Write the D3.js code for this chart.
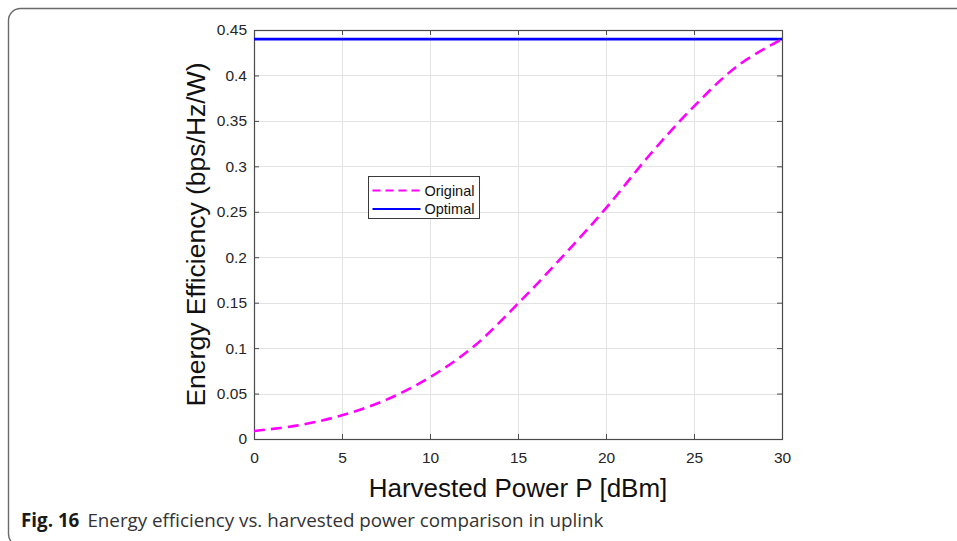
<!DOCTYPE html>
<html>
<head>
<meta charset="utf-8">
<script src="https://cdn.jsdelivr.net/npm/d3@7"></script>
<style>
  html, body { margin: 0; padding: 0; background: #fff; }
  svg { display: block; }
</style>
</head>
<body>
<svg id="chart" width="957" height="541"></svg>
<script>
// Harvested power sweep (dBm)
const powerDbm = [0, 2.5, 5, 7.5, 10, 12.5, 15, 17.5, 20, 22.5, 25, 27.5, 30];
// Energy efficiency (bps/Hz/W) of the original scheme
const originalEE = [0.0088, 0.015, 0.026, 0.043, 0.068, 0.102, 0.149, 0.200, 0.254, 0.313, 0.366, 0.411, 0.440];
// Energy efficiency (bps/Hz/W) of the optimal scheme
const optimalEE = [0.440, 0.440, 0.440, 0.440, 0.440, 0.440, 0.440, 0.440, 0.440, 0.440, 0.440, 0.440, 0.440];

const xTicks = [0, 5, 10, 15, 20, 25, 30];
const yTicks = [0, 0.05, 0.1, 0.15, 0.2, 0.25, 0.3, 0.35, 0.4, 0.45];
const seriesNames = ["Original", "Optimal"];
const captionLabel = "Fig. 16";
const captionText = "Energy efficiency vs. harvested power comparison in uplink";

const svg = d3.select("#chart");
const W = 957, H = 541;

// Rounded figure frame (open to the right edge)
const fr = { x: 8.5, y: 8.5, r: 12, bottom: 546 };
svg.append("path")
  .attr("d", `M${W + 2},${fr.y} H${fr.x + fr.r} A${fr.r},${fr.r} 0 0 0 ${fr.x},${fr.y + fr.r} V${fr.bottom - fr.r} A${fr.r},${fr.r} 0 0 0 ${fr.x + fr.r},${fr.bottom} H${W + 2}`)
  .attr("fill", "none")
  .attr("stroke", "#6a6a6a")
  .attr("stroke-width", 1.4);

const plot = { left: 254, right: 782, top: 30, bottom: 439 };
const x = d3.scaleLinear().domain([0, 30]).range([plot.left, plot.right]);
const y = d3.scaleLinear().domain([0, 0.45]).range([plot.bottom, plot.top]);

const fontAxis = "'Liberation Sans', Arial, sans-serif";

// Grid
const grid = svg.append("g").attr("stroke", "#e3e3e3").attr("stroke-width", 1);
grid.selectAll("line.gx").data(xTicks).join("line")
  .attr("x1", d => Math.round(x(d)) + 0.5).attr("x2", d => Math.round(x(d)) + 0.5)
  .attr("y1", plot.top).attr("y2", plot.bottom);
grid.selectAll("line.gy").data(yTicks).join("line")
  .attr("y1", d => Math.round(y(d)) + 0.5).attr("y2", d => Math.round(y(d)) + 0.5)
  .attr("x1", plot.left).attr("x2", plot.right);

// Axes (ticks point inward, box on)
const axisColor = "#4a4a4a";
function styleAxis(g) {
  g.select(".domain").remove();
  g.selectAll(".tick line").attr("stroke", axisColor).attr("stroke-width", 1);
  g.selectAll(".tick text").attr("fill", "#262626")
    .style("font-family", fontAxis).style("font-size", "15.5px");
}
const xb = svg.append("g").attr("transform", `translate(0,${plot.bottom})`)
  .call(d3.axisBottom(x).tickValues(xTicks).tickSizeInner(-5).tickSizeOuter(0).tickPadding(13).tickFormat(d3.format("")));
styleAxis(xb);
const xt = svg.append("g").attr("transform", `translate(0,${plot.top})`)
  .call(d3.axisTop(x).tickValues(xTicks).tickSizeInner(-5).tickSizeOuter(0).tickFormat(""));
styleAxis(xt);
const yl = svg.append("g").attr("transform", `translate(${plot.left},0)`)
  .call(d3.axisLeft(y).tickValues(yTicks).tickSizeInner(-5).tickSizeOuter(0).tickPadding(7).tickFormat(d => d === 0 ? "0" : String(+d.toFixed(2))));
styleAxis(yl);
const yr = svg.append("g").attr("transform", `translate(${plot.right},0)`)
  .call(d3.axisRight(y).tickValues(yTicks).tickSizeInner(-5).tickSizeOuter(0).tickFormat(""));
styleAxis(yr);

svg.append("rect")
  .attr("x", plot.left + 0.5).attr("y", plot.top + 0.5)
  .attr("width", plot.right - plot.left).attr("height", plot.bottom - plot.top)
  .attr("fill", "none").attr("stroke", axisColor).attr("stroke-width", 1.2);

// Series
const line = d3.line().x(d => x(d[0])).y(d => y(d[1])).curve(d3.curveCatmullRom);
svg.append("path")
  .datum(powerDbm.map((p, i) => [p, optimalEE[i]]))
  .attr("d", line)
  .attr("fill", "none").attr("stroke", "#0000ff").attr("stroke-width", 2.6);
svg.append("path")
  .datum(powerDbm.map((p, i) => [p, originalEE[i]]))
  .attr("d", line)
  .attr("fill", "none").attr("stroke", "#ff00ff").attr("stroke-width", 2.6)
  .attr("stroke-dasharray", "11,6");

// Legend
const lg = svg.append("g").attr("transform", "translate(368.5,176.5)");
lg.append("rect").attr("width", 111).attr("height", 42)
  .attr("fill", "#fff").attr("stroke", "#3a3a3a").attr("stroke-width", 1);
const legendStyles = [
  { color: "#ff00ff", dash: "8,5" },
  { color: "#0000ff", dash: null }
];
seriesNames.forEach((name, i) => {
  const yy = 14 + i * 18.5;
  lg.append("line").attr("x1", 4).attr("x2", 52).attr("y1", yy).attr("y2", yy)
    .attr("stroke", legendStyles[i].color).attr("stroke-width", 2.2)
    .attr("stroke-dasharray", legendStyles[i].dash);
  lg.append("text").attr("x", 56).attr("y", yy + 5).text(name)
    .attr("fill", "#111").style("font-family", fontAxis).style("font-size", "14.5px");
});

// Axis titles
svg.append("text")
  .attr("x", (plot.left + plot.right) / 2).attr("y", 497)
  .attr("text-anchor", "middle").attr("fill", "#111")
  .style("font-family", fontAxis).style("font-size", "26px")
  .text("Harvested Power P [dBm]");
svg.append("text")
  .attr("transform", `translate(205,${(plot.top + plot.bottom) / 2}) rotate(-90)`)
  .attr("text-anchor", "middle").attr("fill", "#111")
  .style("font-family", fontAxis).style("font-size", "26.5px")
  .text("Energy Efficiency (bps/Hz/W)");

// Caption
const cap = svg.append("text").attr("x", 21).attr("y", 527)
  .style("font-family", "'Open Sans', 'Noto Sans', sans-serif").style("font-size", "18.8px");
cap.append("tspan").attr("font-weight", "bold").attr("fill", "#1a1a1a").text(captionLabel);
cap.append("tspan").attr("dx", 8).attr("fill", "#333").text(captionText);
</script>
</body>
</html>
